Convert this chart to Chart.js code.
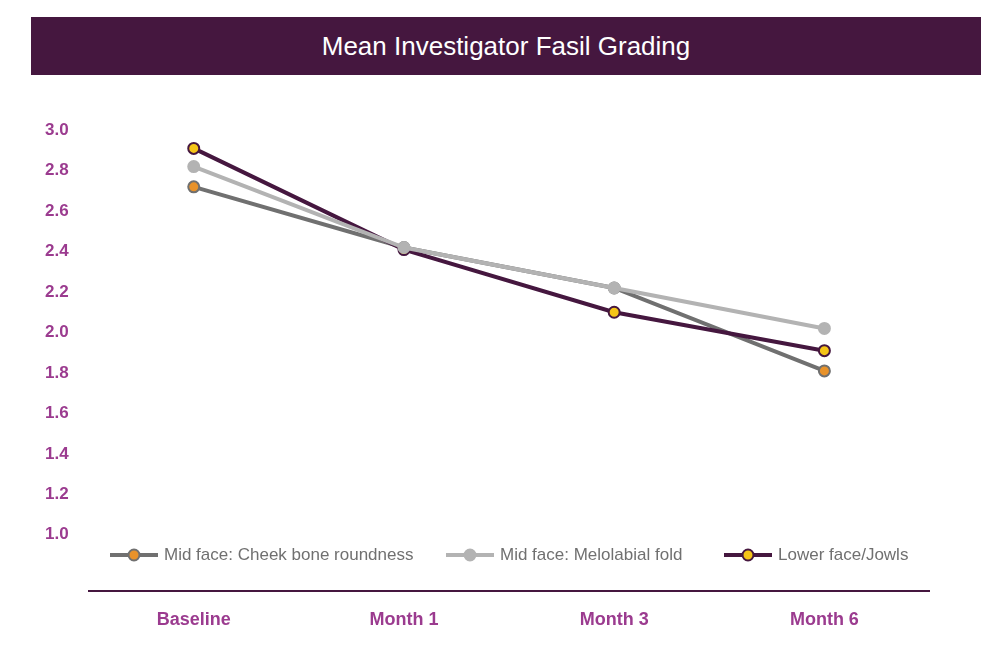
<!DOCTYPE html>
<html><head><meta charset="utf-8">
<script src="https://cdn.jsdelivr.net/npm/chart.js@4"></script>
<style>
body{margin:0;background:#fff;font-family:"Liberation Sans",Arial,sans-serif;}
#title{position:absolute;left:31px;top:17px;width:950px;height:58px;background:#45173f;color:#fff;font-size:26px;line-height:58px;text-align:center;}
#wrap{position:absolute;left:0;top:100px;width:937px;height:549px;}
</style></head><body>
<div id="title">Mean Investigator Fasil Grading</div>
<div id="wrap"><canvas id="c"></canvas></div>
<script>
const labels = ['Baseline', 'Month 1', 'Month 3', 'Month 6'];
const cheek = [2.72, 2.42, 2.22, 1.81];
const fold = [2.82, 2.42, 2.22, 2.02];
const jowls = [2.91, 2.41, 2.10, 1.91];
const yTicks = [1.0, 1.2, 1.4, 1.6, 1.8, 2.0, 2.2, 2.4, 2.6, 2.8, 3.0];

const legendPlugin = {
  id: 'inLegend',
  afterDraw(chart) {
    const ctx = chart.ctx;
    const y = chart.scales.y.getPixelForValue(0.9);
    const items = [
      {x: 110, text: 'Mid face: Cheek bone roundness', line: '#707070', fill: '#e8922a', border: '#707070'},
      {x: 446, text: 'Mid face: Melolabial fold', line: '#b3b3b3', fill: '#b3b3b3', border: '#b3b3b3'},
      {x: 724, text: 'Lower face/Jowls', line: '#45173f', fill: '#f5c518', border: '#45173f'}
    ];
    ctx.save();
    ctx.font = '17px "Liberation Sans", Arial, sans-serif';
    ctx.textBaseline = 'middle';
    items.forEach(it => {
      ctx.strokeStyle = it.line; ctx.lineWidth = 4;
      ctx.beginPath(); ctx.moveTo(it.x, y); ctx.lineTo(it.x + 48, y); ctx.stroke();
      ctx.fillStyle = it.fill; ctx.lineWidth = 2; ctx.strokeStyle = it.border;
      ctx.beginPath(); ctx.arc(it.x + 24, y, 5.5, 0, Math.PI * 2); ctx.fill(); ctx.stroke();
      ctx.fillStyle = '#707070';
      ctx.fillText(it.text, it.x + 54, y);
    });
    ctx.restore();
  }
};

new Chart(document.getElementById('c'), {
  type: 'line',
  data: {
    labels: labels,
    datasets: [
      {data: fold, order: 0, borderColor: '#b3b3b3', backgroundColor: '#b3b3b3', pointBorderColor: '#b3b3b3', borderWidth: 4, pointRadius: 5.5, pointBorderWidth: 2},
      {data: jowls, order: 1, borderColor: '#45173f', backgroundColor: '#f5c518', pointBorderColor: '#45173f', borderWidth: 4, pointRadius: 5.5, pointBorderWidth: 2},
      {data: cheek, order: 2, borderColor: '#707070', backgroundColor: '#e8922a', pointBorderColor: '#707070', borderWidth: 4, pointRadius: 5.5, pointBorderWidth: 2}
    ]
  },
  options: {
    responsive: true, maintainAspectRatio: false, animation: false,
    layout: {padding: {left: 25, top: 20, right: 0, bottom: 0}},
    plugins: {legend: {display: false}, tooltip: {enabled: false}},
    scales: {
      x: {
        offset: true,
        grid: {display: false, drawTicks: false},
        border: {color: '#45173f', width: 2},
        ticks: {color: '#9b3b8f', font: {size: 18, weight: 'bold', family: '"Liberation Sans", Arial'}, padding: 18}
      },
      y: {
        min: 0.72, max: 3.0,
        afterBuildTicks: s => { s.ticks = yTicks.map(v => ({value: v})); },
        grid: {display: false, drawTicks: false},
        border: {display: false},
        ticks: {color: '#9b3b8f', font: {size: 17, weight: 'bold', family: '"Liberation Sans", Arial'}, padding: 20,
          callback: v => v.toFixed(1)}
      }
    }
  },
  plugins: [legendPlugin]
});
</script>
</body></html>
